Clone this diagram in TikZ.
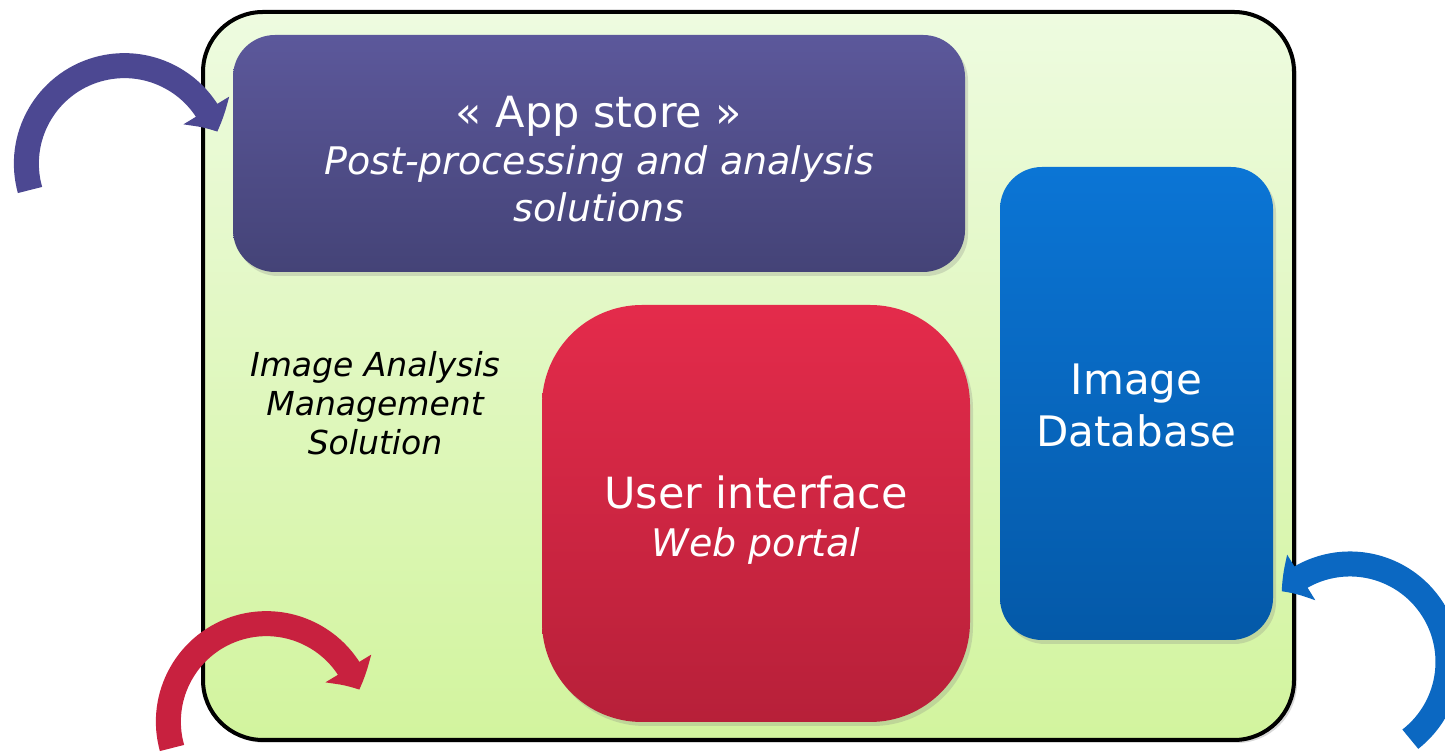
\documentclass[tikz,border=0pt]{standalone}
\usepackage{fontspec}
\setmainfont{DejaVu Sans}
\usetikzlibrary{arrows.meta, bending, shadows}

\begin{document}
\begin{tikzpicture}[x=0.5pt, y=0.5pt]
            \tikzset{
                panel box/.style={
                    rounded corners=#1,
                    inner sep=0pt,
                    text=white,
                    align=center,
                    drop shadow={opacity=0.25, shadow xshift=1.5pt, shadow yshift=-2pt}
                },
                curved arrow/.style={
                    line width=12.5pt,
                    -{Triangle[length=12pt, width=26pt, bend]}
                }
            }

            % Colors of the slide
            \definecolor{frameTop}{HTML}{EEFBE0}
            \definecolor{frameBot}{HTML}{D2F49E}
            \definecolor{storeTop}{HTML}{5C589B}
            \definecolor{storeBot}{HTML}{444377}
            \definecolor{portalTop}{HTML}{E42B4B}
            \definecolor{portalBot}{HTML}{B72039}
            \definecolor{dbTop}{HTML}{0B75D5}
            \definecolor{dbBot}{HTML}{0459A8}
            \definecolor{storeArrow}{HTML}{4C4892}
            \definecolor{portalArrow}{HTML}{C8213F}
            \definecolor{dbArrow}{HTML}{0B68C2}

            \clip (0,0) rectangle (1445,754);

            % --- THE SOLUTION FRAME ---
            \draw[line width=2pt, rounded corners=30pt, top color=frameTop, bottom color=frameBot,
                  drop shadow={opacity=0.3, shadow xshift=1.5pt, shadow yshift=-1.5pt}]
                (203,14) rectangle (1294,742);

            \node[align=center, font=\fontsize{16.5}{19.5}\selectfont\itshape] (label) at (375,351)
                {Image Analysis\\Management\\Solution};

            % --- THE THREE BLOCKS ---
            % 1. App store (the strut pushes the text a little down)
            \node[panel box=21pt, top color=storeTop, bottom color=storeBot,
                  minimum width=366pt, minimum height=118.5pt,
                  font=\fontsize{19}{23.5}\selectfont] (store) at (599,600.5)
                {\rule{0pt}{21pt}{\fontsize{21.5}{23.5}\selectfont « App store »}\\
                 \textit{Post-processing and analysis}\\
                 \textit{solutions}};

            % 2. Web portal
            \node[panel box=50pt, top color=portalTop, bottom color=portalBot,
                  minimum width=214pt, minimum height=208.5pt,
                  font=\fontsize{21.5}{24}\selectfont] (portal) at (756,240.5)
                {\rule{0pt}{23pt}User interface\\{\fontsize{19}{24}\selectfont\itshape Web portal}};

            % 3. Image database
            \node[panel box=21pt, top color=dbTop, bottom color=dbBot,
                  minimum width=136.5pt, minimum height=236.5pt,
                  font=\fontsize{21}{26}\selectfont] (db) at (1136.5,350.5)
                {\rule{0pt}{17pt}Image\\Database};

            % --- CURVED ARROWS (arcs of radius 98) ---
            \coordinate (storeTail) at (30,564);
            \coordinate (portalTail) at (172,6);
            \coordinate (dbTail) at (1410.3,14.8);

            \draw[curved arrow, storeArrow] (storeTail) arc[start angle=195.6, end angle=19, radius=98];
            \draw[curved arrow, portalArrow] (portalTail) arc[start angle=195.6, end angle=19, radius=98];
            \draw[curved arrow, dbArrow] (dbTail) arc[start angle=-52, end angle=134, radius=98];
        \end{tikzpicture}
\end{document}
